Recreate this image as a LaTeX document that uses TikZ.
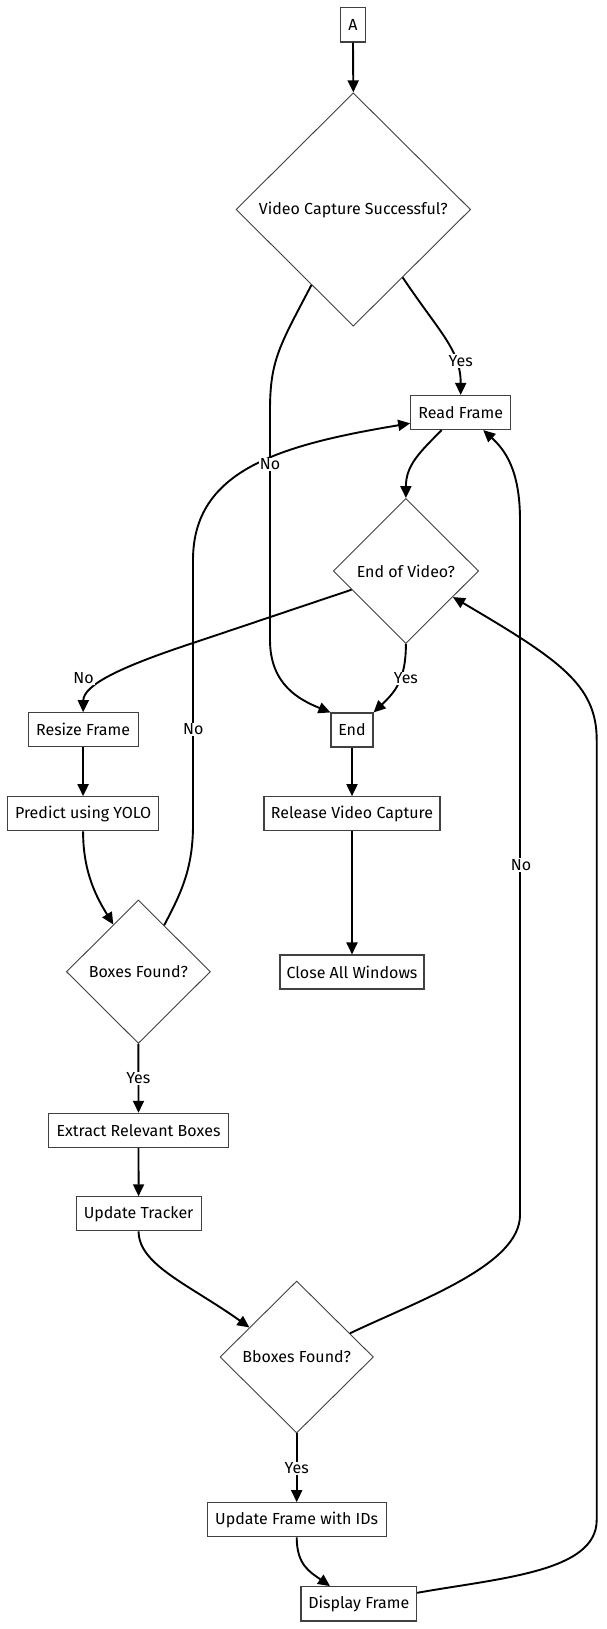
\documentclass[tikz,border=0pt]{standalone}
\usepackage{fontspec}
\setmainfont{Fira Sans}
\usetikzlibrary{shapes.geometric,arrows.meta}
\tikzset{
  txt/.style={font=\fontsize{16}{19}\selectfont},
  box/.style={txt, draw=black!75, line width=1.1pt, rectangle, inner sep=0pt, fill=white},
  dia/.style={txt, draw=black!75, line width=0.9pt, diamond, inner sep=0pt, fill=white},
  edge/.style={line width=1.9pt, -{Triangle[length=12pt,width=11pt]}},
  lbl/.style={txt, fill=white, inner sep=1pt}
}
\begin{document}
\begin{tikzpicture}[x=1pt,y=-1pt]
\fill[white] (0,0) rectangle (606,1629);
\useasboundingbox (0,0) rectangle (606,1629);

% nodes
\node[box, minimum width=24.6pt, minimum height=34.7pt] (A) at (353,24.7) {A};
\node[dia, minimum width=234.6pt, minimum height=233.3pt] (VCS) at (353.3,209.5) {Video Capture Successful?};
\node[box, minimum width=100pt, minimum height=34pt] (RF) at (460.7,412.5) {Read Frame};
\node[dia, minimum width=145.4pt, minimum height=145pt] (EoV) at (405.9,571) {End of Video?};
\node[box, minimum width=110pt, minimum height=34pt] (RS) at (83.1,729.7) {Resize Frame};
\node[box, minimum width=42pt, minimum height=34pt] (End) at (352,730) {End};
\node[box, minimum width=151pt, minimum height=34pt] (PY) at (83.1,813.7) {Predict using YOLO};
\node[box, minimum width=176pt, minimum height=34pt] (RV) at (352,813.7) {Release Video Capture};
\node[dia, minimum width=144pt, minimum height=143.4pt] (BF) at (138.4,971.7) {Boxes Found?};
\node[box, minimum width=144pt, minimum height=34pt] (CW) at (352,972) {Close All Windows};
\node[box, minimum width=180.5pt, minimum height=34pt] (ER) at (138.5,1130.3) {Extract Relevant Boxes};
\node[box, minimum width=125pt, minimum height=34pt] (UT) at (138.6,1213.8) {Update Tracker};
\node[dia, minimum width=153.4pt, minimum height=152pt] (BB) at (296.7,1357) {Bboxes Found?};
\node[box, minimum width=178.7pt, minimum height=34pt] (UF) at (296.7,1519.7) {Update Frame with IDs};
\node[box, minimum width=115.7pt, minimum height=34.3pt] (DF) at (358.8,1603.8) {Display Frame};

% edges
\draw[edge] (A.south) -- (VCS.north);
\draw[edge] (VCS.-54) .. controls (440,333) and (460.7,350) .. (RF.north);
\draw[edge] (VCS.241.5) .. controls (280,345) and (270,360) .. (270,410) -- (270,640) .. controls (270,685) and (300,700) .. (End.north west);
\draw[edge] ([xshift=-19pt]RF.south) .. controls (420,452) and (405.9,465) .. (EoV.north);
\draw[edge] (EoV.199.7) -- (193,643) .. controls (120,667) and (83.5,685) .. (RS.north);
\draw[edge] (EoV.south) .. controls (405.9,680) and (395,692) .. (End.north east);
\draw[edge] (RS.south) -- (PY.north);
\draw[edge] (End.south) -- (RV.north);
\draw[edge] (RV.south) -- (CW.north);
\draw[edge] (PY.south) .. controls (83,870) and (95,895) .. (BF.118.6);
\draw[edge] (BF.61) .. controls (180,895) and (193,870) .. (193,825) -- (193,560) .. controls (193,470) and (280,445) .. ([yshift=-10.8pt]RF.west);
\draw[edge] (BF.south) -- (ER.north);
\draw[edge] (ER.south) -- (UT.north);
\draw[edge] (UT.south) .. controls (138.6,1265) and (190,1285) .. (BB.148.4);
\draw[edge] (BB.south) -- (UF.north);
\draw[edge] (UF.south) .. controls (296.7,1565) and (310,1572) .. ([xshift=-28.8pt]DF.north);
\draw[edge] ([yshift=11pt]DF.east) .. controls (500,1578) and (596.7,1572) .. (596.7,1520) -- (596.7,740) .. controls (596.7,685) and (560,660) .. (EoV.-29.5);
\draw[edge] (BB.24) .. controls (420,1300) and (520,1265) .. (520,1215) -- (520,520) .. controls (520,470) and (505,450) .. ([xshift=22.5pt]RF.south);

% labels
\node[lbl] (l1) at (460.7,361) {Yes};
\node[lbl] (l2) at (270,464.3) {No};
\node[lbl] (l3) at (83.5,678.3) {No};
\node[lbl] (l4) at (405.9,678.3) {Yes};
\node[lbl] (l5) at (193.3,729.3) {No};
\node[lbl] (l6) at (138.4,1078.3) {Yes};
\node[lbl] (l7) at (296.7,1468.3) {Yes};
\node[lbl] (l8) at (521,865) {No};
\end{tikzpicture}
\end{document}
